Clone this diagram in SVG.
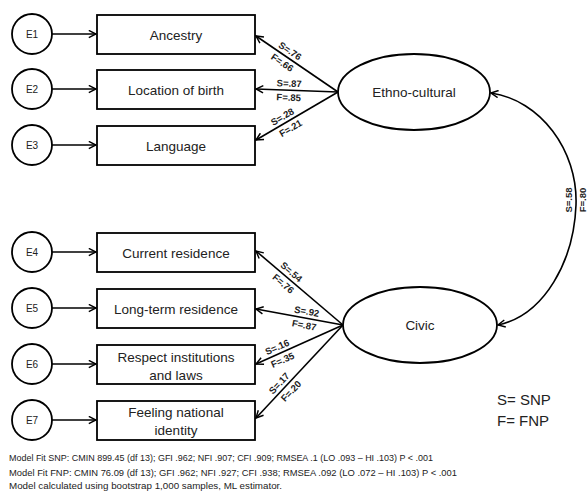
<svg xmlns="http://www.w3.org/2000/svg" width="587" height="491" viewBox="0 0 587 491">
<style>
.shape{fill:#fff;stroke:#000;stroke-width:1.8}
.ln{fill:none;stroke:#000;stroke-width:1.6}
.t{font-family:"Liberation Sans",Arial,sans-serif;fill:#222;text-anchor:middle}
.box{font-size:13.5px}
.e{font-size:10px}
.lab{font-size:9.5px;font-weight:bold}
.note{font-family:"Liberation Sans",Arial,sans-serif;font-size:9.5px;fill:#222}
.leg{font-family:"Liberation Sans",Arial,sans-serif;font-size:15px;fill:#222}
</style>
<defs>
<marker id="ah" viewBox="0 0 10 10" refX="9" refY="5" markerWidth="9" markerHeight="9" markerUnits="userSpaceOnUse" orient="auto-start-reverse">
<path d="M1,1 L9,5 L1,9" fill="none" stroke="#000" stroke-width="1.6"/>
</marker>
</defs>
<rect width="587" height="491" fill="#fff"/>

<g id="connectors">
<line class="ln" x1="52" y1="34" x2="96" y2="34" marker-end="url(#ah)"/>
<line class="ln" x1="52" y1="89" x2="96" y2="89" marker-end="url(#ah)"/>
<line class="ln" x1="52" y1="145" x2="96" y2="145" marker-end="url(#ah)"/>
<line class="ln" x1="52" y1="252" x2="96" y2="252" marker-end="url(#ah)"/>
<line class="ln" x1="52" y1="308" x2="96" y2="308" marker-end="url(#ah)"/>
<line class="ln" x1="52" y1="364" x2="96" y2="364" marker-end="url(#ah)"/>
<line class="ln" x1="52" y1="420" x2="96" y2="420" marker-end="url(#ah)"/>

<line class="ln" x1="338" y1="92" x2="256" y2="36" marker-end="url(#ah)"/>
<line class="ln" x1="338" y1="92" x2="256" y2="89" marker-end="url(#ah)"/>
<line class="ln" x1="338" y1="92" x2="256" y2="140" marker-end="url(#ah)"/>

<line class="ln" x1="343" y1="325" x2="256" y2="251" marker-end="url(#ah)"/>
<line class="ln" x1="343" y1="325" x2="256" y2="309" marker-end="url(#ah)"/>
<line class="ln" x1="343" y1="325" x2="256" y2="364" marker-end="url(#ah)"/>
<line class="ln" x1="343" y1="325" x2="256" y2="418" marker-end="url(#ah)"/>

<path class="ln" d="M491,93 C540,100 578,150 576,205 C574,260 545,315 498,325" marker-start="url(#ah)" marker-end="url(#ah)"/>

<text class="t lab" transform="translate(288.2,53.7) rotate(34.3)">S=.76</text>
<text class="t lab" transform="translate(280.4,65.4) rotate(34.3)">F=.66</text>
<text class="t lab" transform="translate(289.1,86.7) rotate(2.1)">S=.87</text>
<text class="t lab" transform="translate(288.6,100.7) rotate(2.1)">F=.85</text>
<text class="t lab" transform="translate(284,119.6) rotate(-30.3)">S=.28</text>
<text class="t lab" transform="translate(292.3,131) rotate(-30.3)">F=.21</text>

<text class="t lab" transform="translate(289.2,274.5) rotate(40.4)">S=.54</text>
<text class="t lab" transform="translate(281.1,286.1) rotate(40.4)">F=.76</text>
<text class="t lab" transform="translate(306.2,314.7) rotate(10.4)">S=.92</text>
<text class="t lab" transform="translate(303.5,328.4) rotate(10.4)">F=.87</text>
<text class="t lab" transform="translate(278.5,350.1) rotate(-24.1)">S=.16</text>
<text class="t lab" transform="translate(283.9,363) rotate(-24.1)">F=.35</text>
<text class="t lab" transform="translate(281.6,385.5) rotate(-46.9)">S=.17</text>
<text class="t lab" transform="translate(293.5,393.4) rotate(-46.9)">F=.20</text>

<text class="t lab" transform="translate(572,200) rotate(-90)">S=.58</text>
<text class="t lab" transform="translate(586,200) rotate(-90)">F=.80</text>
</g>

<g id="E1"><circle class="shape" cx="32" cy="34" r="20"/><text class="t e" x="32" y="38">E1</text></g>
<g id="E2"><circle class="shape" cx="32" cy="89" r="20"/><text class="t e" x="32" y="93">E2</text></g>
<g id="E3"><circle class="shape" cx="32" cy="145" r="20"/><text class="t e" x="32" y="149">E3</text></g>
<g id="E4"><circle class="shape" cx="32" cy="252" r="20"/><text class="t e" x="32" y="256">E4</text></g>
<g id="E5"><circle class="shape" cx="32" cy="308" r="20"/><text class="t e" x="32" y="312">E5</text></g>
<g id="E6"><circle class="shape" cx="32" cy="364" r="20"/><text class="t e" x="32" y="368">E6</text></g>
<g id="E7"><circle class="shape" cx="32" cy="420" r="20"/><text class="t e" x="32" y="424">E7</text></g>

<g id="ancestry"><rect class="shape" x="97" y="15" width="158" height="39"/><text class="t box" x="176" y="40">Ancestry</text></g>
<g id="location"><rect class="shape" x="97" y="70" width="158" height="39"/><text class="t box" x="176" y="95">Location of birth</text></g>
<g id="language"><rect class="shape" x="97" y="126" width="158" height="39"/><text class="t box" x="176" y="151">Language</text></g>
<g id="current"><rect class="shape" x="97" y="233" width="158" height="39"/><text class="t box" x="176" y="258">Current residence</text></g>
<g id="longterm"><rect class="shape" x="97" y="289" width="158" height="39"/><text class="t box" x="176" y="314">Long-term residence</text></g>
<g id="respect"><rect class="shape" x="97" y="345" width="158" height="39"/><text class="t box" x="176" y="362">Respect institutions</text><text class="t box" x="176" y="380">and laws</text></g>
<g id="feeling"><rect class="shape" x="97" y="401" width="158" height="39"/><text class="t box" x="176" y="417">Feeling national</text><text class="t box" x="176" y="435">identity</text></g>

<g id="ethno"><ellipse class="shape" cx="414" cy="92" rx="76" ry="38"/><text class="t box" x="414" y="97">Ethno-cultural</text></g>
<g id="civic"><ellipse class="shape" cx="420" cy="325" rx="77" ry="38"/><text class="t box" x="420" y="330">Civic</text></g>

<g id="legend">
<text class="leg" x="497" y="405">S= SNP</text>
<text class="leg" x="497" y="426">F= FNP</text>
</g>

<g id="notes">
<text class="note" x="9" y="461" textLength="424" lengthAdjust="spacingAndGlyphs">Model Fit SNP: CMIN 899.45 (df 13); GFI .962; NFI .907; CFI .909; RMSEA .1 (LO .093 – HI .103) P &lt; .001</text>
<text class="note" x="9" y="476" textLength="448" lengthAdjust="spacingAndGlyphs">Model Fit FNP: CMIN 76.09 (df 13); GFI .962; NFI .927; CFI .938; RMSEA .092 (LO .072 – HI .103) P &lt; .001</text>
<text class="note" x="9" y="489" textLength="273" lengthAdjust="spacingAndGlyphs">Model calculated using bootstrap 1,000 samples, ML estimator.</text>
</g>
</svg>
